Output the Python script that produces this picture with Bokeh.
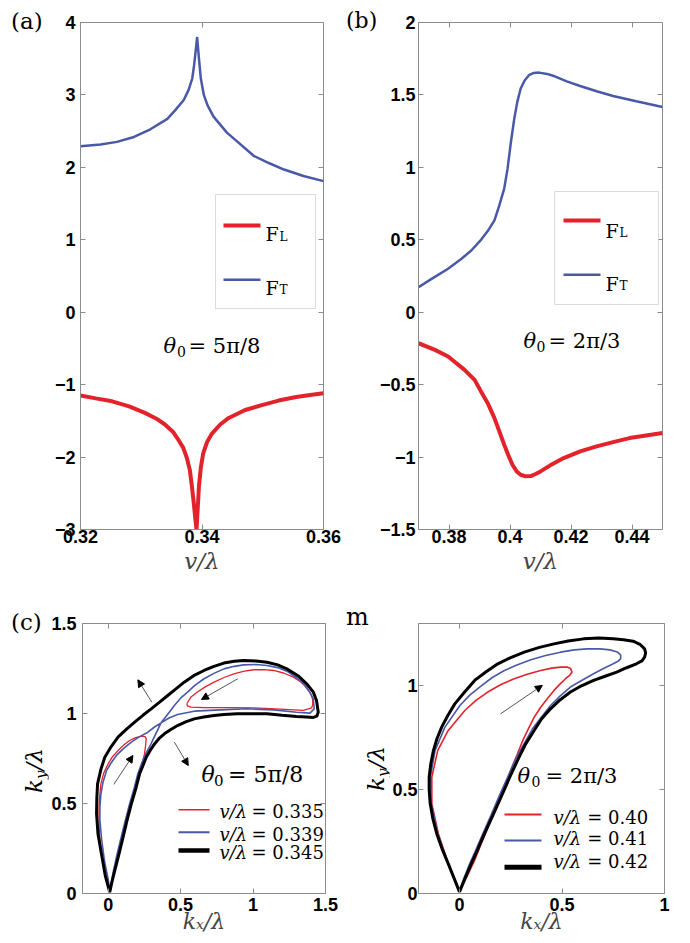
import math
from bokeh.plotting import figure
from bokeh.layouts import column, row
from bokeh.models import (Range1d, FixedTicker, LinearAxis, Label, BoxAnnotation, Arrow, NormalHead,
                          CustomLabelingPolicy, Div)
from bokeh.embed import file_html
from bokeh.resources import INLINE

# ---------------- data ----------------
# panel (a): theta0 = 5pi/8
A_FL_V = [0.3200, 0.3225, 0.3252, 0.3280, 0.3306, 0.3325, 0.3339, 0.3352, 0.3361, 0.3369, 0.3375, 0.3380,
          0.3383, 0.3386, 0.3389, 0.3391, 0.3393, 0.3395, 0.3398, 0.3402, 0.3408, 0.3416, 0.3430, 0.3444,
          0.3471, 0.3500, 0.3526, 0.3555, 0.3581, 0.3600]
A_FL = [-1.15, -1.19, -1.23, -1.30, -1.39, -1.47, -1.55, -1.65, -1.76, -1.87, -2.01, -2.18,
        -2.38, -2.60, -2.85, -3.00, -2.70, -2.40, -2.15, -1.95, -1.80, -1.68, -1.55, -1.46,
        -1.35, -1.28, -1.22, -1.17, -1.14, -1.12]
A_FT_V = [0.3200, 0.3233, 0.3260, 0.3288, 0.3315, 0.3343, 0.3356, 0.3370, 0.3378, 0.3384, 0.3387, 0.3390,
          0.3392, 0.3395, 0.3398, 0.3403, 0.3409, 0.3419, 0.3431, 0.3441, 0.3452, 0.3485, 0.3510, 0.3535,
          0.3567, 0.3600]
A_FT = [2.29, 2.315, 2.352, 2.42, 2.526, 2.67, 2.79, 2.93, 3.07, 3.23, 3.41, 3.64,
        3.80, 3.50, 3.23, 3.00, 2.86, 2.70, 2.58, 2.48, 2.40, 2.16, 2.06, 1.97,
        1.88, 1.81]

# panel (b): theta0 = 2pi/3
B_FT_V = [0.3700, 0.3743, 0.3797, 0.3841, 0.3873, 0.3905, 0.3927, 0.3949, 0.3965, 0.3981, 0.3992, 0.4003,
          0.4014, 0.4024, 0.4035, 0.4048, 0.4062, 0.4078, 0.4095, 0.4122, 0.4143, 0.4186, 0.4230, 0.4284,
          0.4338, 0.4414, 0.4500]
B_FT = [0.173, 0.230, 0.300, 0.369, 0.426, 0.500, 0.560, 0.634, 0.737, 0.853, 0.991, 1.175,
        1.336, 1.452, 1.544, 1.600, 1.636, 1.652, 1.654, 1.645, 1.631, 1.594, 1.562, 1.525,
        1.493, 1.456, 1.417]
B_FL_V = [0.3700, 0.3754, 0.3797, 0.3851, 0.3884, 0.3905, 0.3927, 0.3949, 0.3965, 0.3981, 0.3995, 0.4008,
          0.4022, 0.4035, 0.4051, 0.4068, 0.4084, 0.4100, 0.4132, 0.4176, 0.4230, 0.4284, 0.4338, 0.4392,
          0.4446, 0.4500]
B_FL = [-0.214, -0.260, -0.306, -0.398, -0.467, -0.547, -0.628, -0.731, -0.823, -0.915, -0.989, -1.053,
        -1.099, -1.122, -1.133, -1.131, -1.117, -1.099, -1.057, -1.007, -0.961, -0.926, -0.897, -0.869,
        -0.851, -0.834]

# panel (c): iso-frequency contours, theta0 = 5pi/8
C_BLACK_X = [0.011, -0.02, -0.046, -0.07, -0.08, -0.078, -0.073, -0.05, -0.023, 0.02, 0.068, 0.125, 0.183, 0.24,
             0.297, 0.355, 0.411, 0.468, 0.525, 0.59, 0.662, 0.73, 0.799, 0.87, 0.936, 1.02, 1.096, 1.17, 1.233,
             1.31, 1.37, 1.415, 1.438, 1.45, 1.44, 1.416, 1.37, 1.301, 1.2, 1.096, 0.99, 0.89, 0.80, 0.731, 0.66,
             0.594, 0.535, 0.479, 0.43, 0.388, 0.35, 0.32, 0.29, 0.263, 0.24, 0.217, 0.19, 0.16, 0.13, 0.103,
             0.075, 0.046, 0.025, 0.011]
C_BLACK_Y = [0.007, 0.10, 0.22, 0.33, 0.443, 0.53, 0.609, 0.69, 0.757, 0.815, 0.869, 0.912, 0.952, 0.99,
             1.026, 1.063, 1.10, 1.137, 1.174, 1.21, 1.239, 1.262, 1.28, 1.29, 1.294, 1.292, 1.285, 1.27, 1.248,
             1.21, 1.165, 1.12, 1.072, 1.007, 0.985, 0.978, 0.98, 0.983, 0.99, 0.998, 0.999, 0.998, 0.994, 0.989,
             0.981, 0.97, 0.953, 0.933, 0.91, 0.887, 0.86, 0.831, 0.795, 0.757, 0.71, 0.665, 0.58, 0.498, 0.405,
             0.313, 0.22, 0.128, 0.06, 0.007]
C_BLUE_UP_X = [0.365, 0.41, 0.457, 0.50, 0.548, 0.60, 0.662, 0.73, 0.799, 0.87, 0.936, 1.02, 1.096, 1.17, 1.233,
               1.30, 1.347, 1.39, 1.416, 1.422, 1.393, 1.301, 1.142, 0.959, 0.776, 0.594, 0.479, 0.42, 0.365]
C_BLUE_UP_Y = [0.948, 0.995, 1.044, 1.085, 1.119, 1.158, 1.193, 1.223, 1.248, 1.262, 1.27, 1.272, 1.267, 1.255,
               1.235, 1.20, 1.165, 1.12, 1.081, 1.026, 1.002, 1.007, 1.02, 1.026, 1.02, 1.013, 0.994, 0.975, 0.948]
C_BLUE_LO_X = [0.365, 0.32, 0.274, 0.215, 0.16, 0.105, 0.057, 0.02, -0.011, -0.035, -0.05, -0.057, -0.057,
               -0.045, -0.025, 0.0, 0.011, 0.035, 0.062, 0.09, 0.118, 0.148, 0.178, 0.205, 0.232, 0.262, 0.295,
               0.33, 0.365]
C_BLUE_LO_Y = [0.948, 0.925, 0.896, 0.87, 0.841, 0.805, 0.767, 0.725, 0.683, 0.62, 0.554, 0.48, 0.406, 0.30,
               0.18, 0.08, 0.013, 0.12, 0.22, 0.313, 0.405, 0.498, 0.58, 0.665, 0.725, 0.78, 0.83, 0.89, 0.948]
C_RED_UP_X = [0.543, 0.57, 0.616, 0.67, 0.731, 0.80, 0.868, 0.94, 1.005, 1.075, 1.142, 1.21, 1.279, 1.33, 1.37,
              1.398, 1.411, 1.412, 1.404, 1.347, 1.187, 1.005, 0.822, 0.662, 0.571, 0.548, 0.543]
C_RED_UP_Y = [1.054, 1.09, 1.119, 1.148, 1.174, 1.20, 1.22, 1.236, 1.243, 1.244, 1.239, 1.225, 1.202, 1.175,
              1.146, 1.11, 1.081, 1.05, 1.031, 1.017, 1.024, 1.031, 1.033, 1.033, 1.035, 1.042, 1.054]
C_RED_LO_X = [0.011, -0.02, -0.046, -0.06, -0.064, -0.06, -0.05, -0.03, 0.0, 0.03, 0.068, 0.105, 0.148, 0.19,
              0.23, 0.255, 0.263, 0.258, 0.251, 0.23, 0.205, 0.17, 0.137, 0.10, 0.068, 0.04, 0.011]
C_RED_LO_Y = [0.013, 0.10, 0.22, 0.33, 0.443, 0.53, 0.609, 0.67, 0.72, 0.76, 0.794, 0.823, 0.85, 0.866, 0.874,
              0.872, 0.859, 0.82, 0.776, 0.71, 0.646, 0.535, 0.424, 0.31, 0.202, 0.11, 0.013]

# panel (d): iso-frequency contours, theta0 = 2pi/3
D_BLACK_X = [0.0, -0.055, -0.085, -0.111, -0.13, -0.143, -0.148, -0.148, -0.14, -0.127, -0.11, -0.087, -0.057,
             -0.023, 0.025, 0.074, 0.13, 0.187, 0.25, 0.316, 0.39, 0.461, 0.53, 0.605, 0.68, 0.75, 0.80, 0.847,
             0.88, 0.903, 0.908, 0.903, 0.89, 0.863, 0.815, 0.767, 0.71, 0.654, 0.595, 0.541, 0.49, 0.444, 0.40,
             0.364, 0.32, 0.283, 0.243, 0.203, 0.162, 0.122, 0.09, 0.058, 0.028, 0.0]
D_BLACK_Y = [0.008, 0.144, 0.215, 0.288, 0.36, 0.433, 0.50, 0.561, 0.625, 0.689, 0.745, 0.801, 0.857, 0.913,
             0.97, 1.026, 1.068, 1.106, 1.136, 1.162, 1.185, 1.202, 1.216, 1.226, 1.23, 1.226, 1.222, 1.215, 1.20,
             1.178, 1.158, 1.138, 1.12, 1.106, 1.087, 1.066, 1.046, 1.026, 1.0, 0.97, 0.932, 0.889, 0.84, 0.785,
             0.715, 0.641, 0.555, 0.465, 0.375, 0.288, 0.215, 0.144, 0.075, 0.008]
D_BLUE_X = [0.0, -0.055, -0.106, -0.138, -0.142, -0.119, -0.071, 0.002, 0.05, 0.106, 0.16, 0.219, 0.28, 0.348,
            0.42, 0.493, 0.56, 0.622, 0.685, 0.734, 0.77, 0.786, 0.786, 0.773, 0.75, 0.70, 0.654, 0.60, 0.541,
            0.49, 0.444, 0.40, 0.356, 0.315, 0.275, 0.235, 0.195, 0.155, 0.114, 0.08, 0.05, 0.022, 0.0]
D_BLUE_Y = [0.012, 0.144, 0.288, 0.433, 0.561, 0.689, 0.801, 0.905, 0.955, 1.0, 1.04, 1.074, 1.10, 1.125, 1.146,
            1.162, 1.173, 1.178, 1.178, 1.173, 1.163, 1.148, 1.13, 1.118, 1.106, 1.082, 1.058, 1.028, 0.994,
            0.95, 0.905, 0.85, 0.793, 0.722, 0.649, 0.56, 0.473, 0.38, 0.288, 0.21, 0.144, 0.075, 0.012]
D_RED_X = [0.0, -0.055, -0.103, -0.135, -0.135, -0.106, -0.055, 0.026, 0.08, 0.138, 0.20, 0.267, 0.33, 0.396,
           0.45, 0.493, 0.525, 0.541, 0.549, 0.537, 0.517, 0.49, 0.461, 0.43, 0.396, 0.365, 0.34, 0.31, 0.283,
           0.25, 0.219, 0.185, 0.147, 0.11, 0.074, 0.038, 0.0]
D_RED_Y = [0.012, 0.144, 0.288, 0.433, 0.561, 0.689, 0.785, 0.881, 0.93, 0.97, 1.005, 1.034, 1.056, 1.074, 1.085,
           1.09, 1.09, 1.085, 1.066, 1.05, 1.034, 1.008, 0.978, 0.94, 0.897, 0.85, 0.801, 0.74, 0.673, 0.595,
           0.513, 0.43, 0.337, 0.25, 0.16, 0.085, 0.012]

# arrows (start x, start y, end x, end y) in data units
C_ARROWS = [(0.039, 0.606, 0.171, 0.767), (0.895, 1.193, 0.644, 1.078),
            (0.301, 1.063, 0.205, 1.187), (0.457, 0.841, 0.553, 0.711)]
D_ARROWS = [(0.20, 0.865, 0.404, 1.002)]

# ticks and labels
A_XT, A_XL = [0.32, 0.34, 0.36], ["0.32", "0.34", "0.36"]
A_YT = [-3, -2, -1, 0, 1, 2, 3, 4]
A_YL = ["\u22123", "\u22122", "\u22121", "0", "1", "2", "3", "4"]
B_XT, B_XL = [0.38, 0.40, 0.42, 0.44], ["0.38", "0.4", "0.42", "0.44"]
B_YT = [-1.5, -1.0, -0.5, 0.0, 0.5, 1.0, 1.5, 2.0]
B_YL = ["\u22121.5", "\u22121", "\u22120.5", "0", "0.5", "1", "1.5", "2"]
C_XT, C_XL = [0.0, 0.5, 1.0, 1.5], ["0", "0.5", "1", "1.5"]
C_YT, C_YL = [0.0, 0.5, 1.0, 1.5], ["0", "0.5", "1", "1.5"]
D_XT, D_XL = [0.0, 0.5, 1.0], ["0", "0.5", "1"]
D_YT, D_YL = [0.0, 0.5, 1.0], ["0", "0.5", "1"]
C_LEG = ["0.335", "0.339", "0.345"]
D_LEG = ["0.40", "0.41", "0.42"]

# ---------------- style ----------------
GRAY = "#8c8c8c"
RED = "#e3232b"
BLUE = "#4a58a8"
SERIF = "DejaVu Serif"
SANS = "Liberation Sans"


def make_fig(w, h, bl, br, bt, bb, xr, yr, xt, xl, yt, yl, xst, yst):
    p = figure(width=w, height=h, x_range=Range1d(*xr), y_range=Range1d(*yr),
               output_backend="svg", toolbar_location=None,
               min_border_left=bl, min_border_right=br, min_border_top=bt, min_border_bottom=bb)
    p.xgrid.visible = False
    p.ygrid.visible = False
    p.outline_line_color = GRAY
    p.outline_line_width = 1
    p.background_fill_color = "white"
    p.border_fill_color = "white"
    for ax, ticks, labels, st in ((p.below[0], xt, xl, xst), (p.left[0], yt, yl, yst)):
        ax.ticker = FixedTicker(ticks=ticks)
        ax.major_label_overrides = dict(zip(ticks, labels))
        ax.axis_line_color = GRAY
        ax.major_tick_line_color = GRAY
        ax.major_tick_in = 5
        ax.major_tick_out = 0
        ax.minor_tick_line_color = None
        ax.major_label_text_font = SANS
        ax.major_label_text_font_style = "bold"
        ax.major_label_text_font_size = "18px"
        ax.major_label_text_color = "black"
        ax.major_label_standoff = st
    for loc, ticks in (("above", xt), ("right", yt)):
        ax = LinearAxis(ticker=FixedTicker(ticks=ticks), major_label_text_font_size="1px",
                        major_label_policy=CustomLabelingPolicy(code="return []"),
                        major_label_standoff=0, axis_line_color=None, major_tick_in=5, major_tick_out=0,
                        major_tick_line_color=GRAY, minor_tick_line_color=None)
        p.add_layout(ax, loc)
    return p


def side_div(w, h, items):
    html = (f'<div style="position:relative;width:{w}px;height:{h}px;overflow:visible;">'
            + "".join(items) + "</div>")
    return Div(text=html, width=w, height=h, margin=(0, 0, 0, 0))


def htxt(x, y, text, size, italic=False):
    st = "italic" if italic else "normal"
    return (f'<div style="position:absolute;left:{x}px;top:{y}px;font-family:\'{SERIF}\';'
            f'font-size:{size}px;font-style:{st};line-height:1;white-space:nowrap;color:#000;">{text}</div>')


def hky(x0, y0, size=23):
    return (f'<div style="position:absolute;left:{x0}px;top:{y0}px;transform:rotate(-90deg);'
            f'transform-origin:0 0;font-family:\'{SERIF}\';font-style:italic;font-size:{size}px;'
            f'line-height:1;white-space:nowrap;color:#000;">k<span style="font-size:15px;position:relative;'
            f'top:4px;">y</span>/\u03bb</div>')


def put(p, fl, fb, px, py, text, size, style="normal", baseline="middle", angle=0.0):
    p.add_layout(Label(x=px - fl, y=fb - py, x_units="screen", y_units="screen", text=text,
                       text_font=SERIF, text_font_size=f"{size}px", text_font_style=style,
                       text_baseline=baseline, text_align="left", angle=angle, text_color="black"))


def box(p, fl, fb, left, right, top, bottom, fill, line=None):
    p.add_layout(BoxAnnotation(left=left - fl, right=right - fl, top=fb - top, bottom=fb - bottom,
                               left_units="screen", right_units="screen", top_units="screen",
                               bottom_units="screen", fill_color=fill, fill_alpha=1.0,
                               line_color=line, line_width=1))


def arrows(p, lst):
    for xs, ys, xe, ye in lst:
        p.add_layout(Arrow(end=NormalHead(size=7, fill_color="black", line_color="black", line_width=1),
                           x_start=xs, y_start=ys, x_end=xe, y_end=ye, line_color="#555555", line_width=1))


def xlab(p, text, size, standoff):
    ax = p.below[0]
    ax.axis_label = text
    ax.axis_label_text_font = SERIF
    ax.axis_label_text_font_style = "italic"
    ax.axis_label_text_font_size = f"{size}px"
    ax.axis_label_standoff = standoff


# ---------------- top row (y 0..590) ----------------
da = side_div(48, 590, [htxt(11, 10, "(a)", 23)])

pa = make_fig(297, 590, 32, 22, 22, 61, (0.32, 0.36), (-3, 4), A_XT, A_XL, A_YT, A_YL, 0, 5)
xlab(pa, "v/\u03bb", 23, 2)
pa.line(A_FT_V, A_FT, line_color=BLUE, line_width=2.5)
pa.line(A_FL_V, A_FL, line_color=RED, line_width=4)
fl, fb = 80, 529
box(pa, fl, fb, 215, 315, 194, 308, "white", GRAY)
box(pa, fl, fb, 223, 260, 223, 227, RED)
box(pa, fl, fb, 223, 260, 278, 280.5, BLUE)
put(pa, fl, fb, 265, 233, "F", 19, baseline="alphabetic")
put(pa, fl, fb, 279, 236, "L", 12, baseline="alphabetic")
put(pa, fl, fb, 265, 287, "F", 19, baseline="alphabetic")
put(pa, fl, fb, 279, 289, "T", 12, baseline="alphabetic")
put(pa, fl, fb, 163, 345, "\u03b8", 21, style="italic")
put(pa, fl, fb, 176.5, 351, "0", 14)
put(pa, fl, fb, 188, 345, "= 5\u03c0/8", 21)

db = side_div(31, 590, [htxt(1, 10, "(b)", 22)])

pb = make_fig(314, 590, 39, 28, 22, 61, (0.37, 0.45), (-1.5, 2), B_XT, B_XL, B_YT, B_YL, 0, 3)
xlab(pb, "v/\u03bb", 23, 2)
pb.line(B_FT_V, B_FT, line_color=BLUE, line_width=2.5)
pb.line(B_FL_V, B_FL, line_color=RED, line_width=4)
fl, fb = 415, 529
box(pb, fl, fb, 551, 655, 191, 304, "white", GRAY)
box(pb, fl, fb, 560, 597, 218, 222, RED)
box(pb, fl, fb, 560, 597, 273, 275.5, BLUE)
put(pb, fl, fb, 602, 230, "F", 19, baseline="alphabetic")
put(pb, fl, fb, 616, 232, "L", 12, baseline="alphabetic")
put(pb, fl, fb, 602, 283, "F", 19, baseline="alphabetic")
put(pb, fl, fb, 616, 285, "T", 12, baseline="alphabetic")
put(pb, fl, fb, 520, 340, "\u03b8", 21, style="italic")
put(pb, fl, fb, 533, 346, "0", 14)
put(pb, fl, fb, 545, 340, "= 2\u03c0/3", 21)

# ---------------- bottom row (y 590..943) ----------------
dc = side_div(48, 353, [htxt(11, 21, "(c)", 23), hky(23, 203)])

pc = make_fig(297, 353, 33, 20, 33, 50, (-0.177, 1.5), (0, 1.5), C_XT, C_XL, C_YT, C_YL, 4, 6)
xlab(pc, "k\u2093/\u03bb", 22, -5)
pc.line(C_RED_UP_X, C_RED_UP_Y, line_color=RED, line_width=1.3)
pc.line(C_RED_LO_X, C_RED_LO_Y, line_color=RED, line_width=1.3)
pc.line(C_BLUE_UP_X, C_BLUE_UP_Y, line_color=BLUE, line_width=1.6)
pc.line(C_BLUE_LO_X, C_BLUE_LO_Y, line_color=BLUE, line_width=1.6)
pc.line(C_BLACK_X, C_BLACK_Y, line_color="black", line_width=3)
arrows(pc, C_ARROWS)
fl, fb = 81, 893
put(pc, fl, fb, 200, 774, "\u03b8", 22, style="italic")
put(pc, fl, fb, 212.5, 780, "0", 15)
put(pc, fl, fb, 226.5, 774, "= 5\u03c0/8", 22)
for (yc, col, th), val in zip(((809.3, RED, 1.5), (831.7, BLUE, 2), (850, "black", 4.5)), C_LEG):
    box(pc, fl, fb, 177, 208, yc - th / 2, yc + th / 2, col)
    put(pc, fl, fb, 218, yc + 2, "v/\u03bb", 18, style="italic")
    put(pc, fl, fb, 250, yc + 2, "= " + val, 18)

dd = side_div(44, 353, [htxt(1, 15, "m", 24), hky(20, 201)])

pd_ = make_fig(301, 353, 26, 26, 33, 50, (-0.2, 1.0), (0, 1.3), D_XT, D_XL, D_YT, D_YL, 4, 1)
xlab(pd_, "k\u2093/\u03bb", 22, -5)
pd_.line(D_RED_X, D_RED_Y, line_color=RED, line_width=1.6)
pd_.line(D_BLUE_X, D_BLUE_Y, line_color=BLUE, line_width=1.6)
pd_.line(D_BLACK_X, D_BLACK_Y, line_color="black", line_width=3)
arrows(pd_, D_ARROWS)
fl, fb = 415, 893
put(pd_, fl, fb, 514, 775, "\u03b8", 21, style="italic")
put(pd_, fl, fb, 528, 781, "0", 14)
put(pd_, fl, fb, 542, 775, "= 2\u03c0/3", 21)
for (yc, ty, col, th), val in zip(((814, 816.7, RED, 2), (840, 838.3, BLUE, 2), (866.7, 860.7, "black", 5)), D_LEG):
    box(pd_, fl, fb, 501, 538, yc - th / 2, yc + th / 2, col)
    put(pd_, fl, fb, 550, ty, "v/\u03bb", 18, style="italic")
    put(pd_, fl, fb, 583.7, ty, "= " + val, 18)

layout = column(row(da, pa, db, pb), row(dc, pc, dd, pd_))
open("out.html", "w").write(file_html(layout, INLINE))
